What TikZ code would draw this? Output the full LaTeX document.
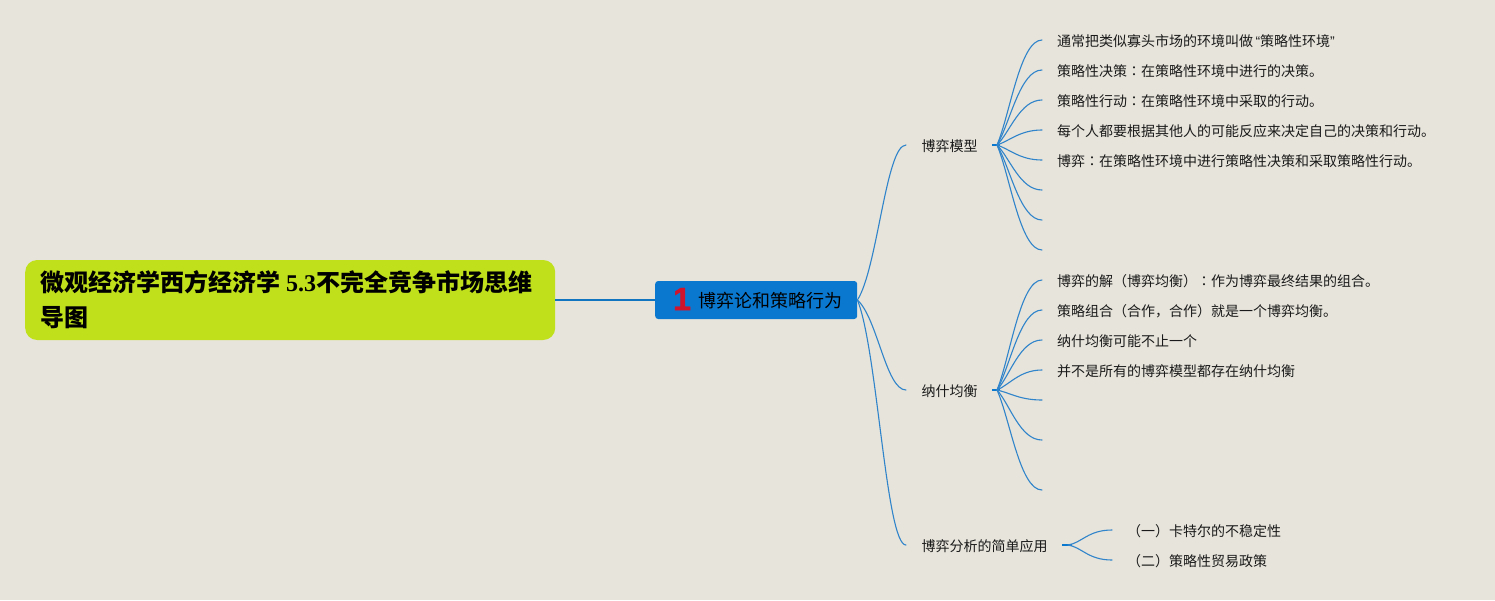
\documentclass[tikz,border=0pt]{standalone}
\usepackage{fontspec}
\usetikzlibrary{calc}
\setmainfont{Noto Sans CJK SC}
\newfontfamily\tcfont{Noto Sans CJK TC}
\newfontfamily\serifbold{Liberation Serif}
\newfontfamily\latinq{Liberation Sans}
\newfontfamily\iconfont{Liberation Sans}[BoldFeatures={FakeBold=1.5}]
\newcommand{\cl}{{\tcfont ：}}
\definecolor{bgc}{HTML}{E6E4DB}
\definecolor{rootc}{HTML}{C0E01C}
\definecolor{bluec}{HTML}{0B78D0}
\definecolor{trunkc}{HTML}{1176BF}
\definecolor{linkc}{HTML}{3084CA}
\definecolor{redc}{HTML}{D0142C}
\definecolor{inkc}{HTML}{1A1A1A}
\tikzset{
  rootbox/.style={fill=rootc,rounded corners=12pt,minimum width=530pt,minimum height=80pt,text width=500pt,align=left,inner xsep=15pt,inner ysep=0pt,text=black,anchor=west,font=\fontsize{24}{35}\selectfont\bfseries},
  bluebox/.style={fill=bluec,rounded corners=3pt,minimum width=202pt,minimum height=38pt,inner sep=0pt,text=black,anchor=west},
  midnode/.style={anchor=west,inner xsep=15.5pt,inner ysep=0pt,text=inkc,font=\fontsize{14}{16}\selectfont,text height=13pt,text depth=1pt},
  leaf/.style={anchor=west,inner xsep=15pt,inner ysep=0pt,text=inkc,font=\fontsize{14}{16}\selectfont,text height=12pt,text depth=0pt},
  link/.style={draw=linkc,line width=1.1pt,line cap=round},
  stub/.style={draw=bluec,line width=2pt},
  trunk/.style={draw=trunkc,line width=2pt}
}
\begin{document}
\begin{tikzpicture}[x=1pt,y=-1pt]
\useasboundingbox (0,0) rectangle (1495,600);
\fill[bgc] (0,0) rectangle (1495,600);

\node[rootbox] (root) at (25,300) {微观经济学西方经济学\hspace{6pt}{\serifbold\bfseries 5.3}不完全竞争市场思维\\导图};
\node[bluebox] (main) at (655,300) {};
\node[anchor=west,inner sep=0pt,text=black,font=\fontsize{18}{20}\selectfont] (maintext) at (698,301) {博弈论和策略行为};
\node[inner sep=0pt,text=redc,font=\fontsize{32}{32}\selectfont\iconfont\bfseries] (mainicon) at (682,299) {1};
\draw[trunk] (root.east) -- (main.west);

\node[midnode] (m1) at (906,145) {博弈模型};
\node[midnode] (m2) at (906,390) {纳什均衡};
\node[midnode] (m3) at (906,545) {博弈分析的简单应用};

\foreach \t in {m1,m2,m3}{
  \draw[link] let \p1=(main.east), \p2=(\t.west) in
    (main.east) .. controls (\x1+20,{\y1+0.2*(\y2-\y1)}) and (\x2-20,\y2) .. (\t.west);
}

\coordinate (h1) at (992,145);
\coordinate (h1b) at (1000,145);
\coordinate (s1) at (997,145);
\coordinate (h2) at (992,390);
\coordinate (h2b) at (1000,390);
\coordinate (s2) at (997,390);
\coordinate (h3) at (1062,545);
\coordinate (h3b) at (1072,545);
\coordinate (s3) at (1068,545);
\draw[stub] (h1) -- (h1b);
\draw[stub] (h2) -- (h2b);
\draw[stub] (h3) -- (h3b);

\node[leaf] (a1) at (1042,40) {通常把类似寡头市场的环境叫做\makebox[7pt][r]{\latinq “}策略性环境\makebox[7pt][l]{\latinq ”}};
\node[leaf] (a2) at (1042,70) {策略性决策\cl 在策略性环境中进行的决策。};
\node[leaf] (a3) at (1042,100) {策略性行动\cl 在策略性环境中采取的行动。};
\node[leaf] (a4) at (1042,130) {每个人都要根据其他人的可能反应来决定自己的决策和行动。};
\node[leaf] (a5) at (1042,160) {博弈\cl 在策略性环境中进行策略性决策和采取策略性行动。};
\coordinate (a6) at (1042,190);
\coordinate (a7) at (1042,220);
\coordinate (a8) at (1042,250);

\node[leaf] (b1) at (1042,280) {博弈的解（博弈均衡）\cl 作为博弈最终结果的组合。};
\node[leaf] (b2) at (1042,310) {策略组合（合作，合作）就是一个博弈均衡。};
\node[leaf] (b3) at (1042,340) {纳什均衡可能不止一个};
\node[leaf] (b4) at (1042,370) {并不是所有的博弈模型都存在纳什均衡};
\coordinate (b5) at (1042,400);
\coordinate (b6) at (1042,440);
\coordinate (b7) at (1042,490);

\node[leaf] (c1) at (1112,530) {（一）卡特尔的不稳定性};
\node[leaf] (c2) at (1112,560) {（二）策略性贸易政策};

\foreach \t in {a1,a2,a3,a4,a5,a6,a7,a8}{
  \draw[link] let \p1=(s1), \p2=(\t.west) in
    (s1) .. controls (\x1+13,{\y1+0.29*(\y2-\y1)}) and (\x2-22,\y2) .. (\t.west);
}
\foreach \t in {b1,b2,b3,b4,b5,b6,b7}{
  \draw[link] let \p1=(s2), \p2=(\t.west) in
    (s2) .. controls (\x1+13,{\y1+0.29*(\y2-\y1)}) and (\x2-22,\y2) .. (\t.west);
}
\foreach \t in {c1,c2}{
  \draw[link] let \p1=(s3), \p2=(\t.west) in
    (s3) .. controls (\x1+14,{\y1+0.15*(\y2-\y1)}) and (\x2-24,\y2) .. (\t.west);
}
\end{tikzpicture}
\end{document}
